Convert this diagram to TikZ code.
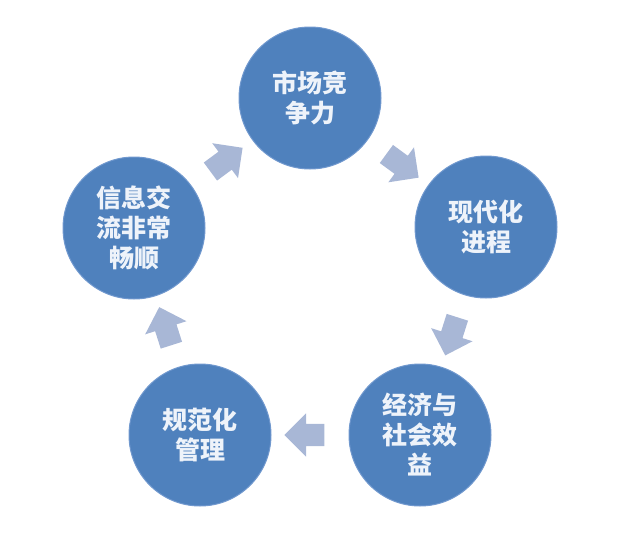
\documentclass[tikz,border=0pt]{standalone}
\usepackage{fontspec}
\newfontfamily\cjk{Noto Sans CJK SC}
\usetikzlibrary{shapes.arrows}

\definecolor{quan}{RGB}{79,129,189}
\definecolor{quanbian}{RGB}{112,152,206}
\definecolor{jiantou}{RGB}{168,183,214}
\definecolor{ziti}{RGB}{238,243,250}

\begin{document}
\begin{tikzpicture}[x=1pt,y=-1pt,
  yuan/.style={circle,fill=quan,draw=quanbian,line width=1pt,minimum size=142pt,inner sep=0pt,
    align=center,text=ziti,font=\cjk\bfseries\fontsize{25}{30}\selectfont},
  jian/.style={single arrow,fill=jiantou,minimum height=40pt,inner xsep=0pt,inner ysep=11pt,
    single arrow head extend=10.5pt,sloped,allow upside down}]
  \useasboundingbox (0,0) rectangle (635,538); % 图的边界
  \node[yuan] (shichang) at (310,98) {市场竞\\争力}; % 上
  \node[yuan] (xiandai) at (486,227) {现代化\\进程}; % 右
  \node[yuan] (jingji) at (420,435) {经济与\\社会效\\益}; % 右下
  \node[yuan] (guifan) at (200,435) {规范化\\管理}; % 左下
  \node[yuan] (xinxi) at (134,228) {信息交\\流非常\\畅顺}; % 左
  \path (shichang) -- node[jian] (j1) {} (xiandai); % 上→右
  \path (xiandai) -- node[jian] (j2) {} (jingji); % 右→右下
  \path (jingji) -- node[jian] (j3) {} (guifan); % 右下→左下
  \path (guifan) -- node[jian] (j4) {} (xinxi); % 左下→左
  \path (xinxi) -- node[jian] (j5) {} (shichang); % 左→上
\end{tikzpicture}
\end{document}
